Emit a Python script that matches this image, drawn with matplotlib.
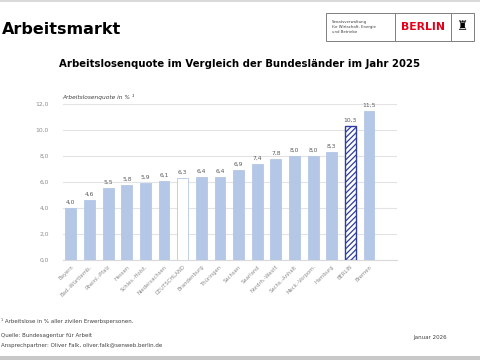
import matplotlib.pyplot as plt
from matplotlib.patches import Rectangle
from matplotlib.ticker import FuncFormatter

# Arbeitslosenquote 2025 by Bundesland
laender = ['Bayern', 'Bad.-Württemb.', 'Rheinl.-Pfalz', 'Hessen', 'Schles.-Holst.',
           'Niedersachsen', 'DEUTSCHLAND', 'Brandenburg', 'Thüringen', 'Sachsen',
           'Saarland', 'Nordrh.-Westf.', 'Sachs.-Anhalt', 'Meck.-Vorpom.', 'Hamburg',
           'BERLIN', 'Bremen']
quote = [4.0, 4.6, 5.5, 5.8, 5.9, 6.1, 6.3, 6.4, 6.4, 6.9,
         7.4, 7.8, 8.0, 8.0, 8.3, 10.3, 11.5]
y_ticks = [0, 2, 4, 6, 8, 10, 12]

bar_blue = '#b4c7e7'
grey_txt = '#8c8c8c'
plt.rcParams['font.family'] = ['DejaVu Sans']
plt.rcParams['hatch.color'] = '#2f3e9e'
plt.rcParams['hatch.linewidth'] = 0.9

fig = plt.figure(figsize=(4.8, 3.6), dpi=100)
ax = fig.add_axes([0.131, 0.278, 0.696, 0.433])

x = list(range(len(laender)))
bars = ax.bar(x, quote, width=0.58, color=bar_blue, edgecolor=bar_blue, linewidth=0.6, zorder=3)
# Deutschland hollow, Berlin hatched
i_de = laender.index('DEUTSCHLAND')
bars[i_de].set_facecolor('white')
bars[i_de].set_edgecolor(bar_blue)
i_be = laender.index('BERLIN')
bars[i_be].set_facecolor('white')
bars[i_be].set_edgecolor('#2f3e9e')
bars[i_be].set_hatch('//////')
bars[i_be].set_linewidth(1.0)

for xi, v in zip(x, quote):
    ax.text(xi, v + 0.25, f'{v:.1f}'.replace('.', ','), ha='center', va='bottom',
            fontsize=4.3, color='#595959')

ax.set_xlim(-0.43, 17.5)
ax.set_ylim(0, 12)
ax.set_yticks(y_ticks)
ax.yaxis.set_major_formatter(FuncFormatter(lambda v, p: f'{v:.1f}'.replace('.', ',')))
ax.tick_params(axis='y', length=0, labelsize=4.3, labelcolor=grey_txt, pad=10)
ax.set_xticks(x)
ax.set_xticklabels(laender, rotation=45, ha='right', rotation_mode='anchor',
                   fontsize=3.8, color=grey_txt)
ax.tick_params(axis='x', length=0, pad=3)
ax.grid(axis='y', color='#e3e3e3', linewidth=0.8, zorder=0)
for s in ['top', 'right', 'left']:
    ax.spines[s].set_visible(False)
ax.spines['bottom'].set_color('#d9d9d9')
ax.spines['bottom'].set_linewidth(0.8)

# header
fig.text(0.004, 0.917, 'Arbeitsmarkt', fontsize=11.5, fontweight='bold', va='center', ha='left')
fig.text(0.5, 0.822, 'Arbeitslosenquote im Vergleich der Bundesländer im Jahr 2025',
         fontsize=7.3, fontweight='bold', va='center', ha='center')
fig.text(0.129, 0.73, 'Arbeitslosenquote in % ¹', fontsize=4.2, style='italic',
         color='#404040', va='center', ha='left')

# logo box
fig.patches.append(Rectangle((326 / 480, 1 - 41 / 360), 148 / 480, 28 / 360,
                             transform=fig.transFigure, fill=False, edgecolor='#7f7f7f', lw=0.7))
for xx in [395, 451]:
    fig.add_artist(plt.Line2D([xx / 480, xx / 480], [1 - 41 / 360, 1 - 13 / 360],
                              transform=fig.transFigure, color='#7f7f7f', lw=0.7))
fig.text(332 / 480, 1 - 27 / 360, 'Senatsverwaltung\nfür Wirtschaft, Energie\nund Betriebe',
         fontsize=2.8, color='#404040', va='center', ha='left', linespacing=1.3)
fig.text(423 / 480, 1 - 27 / 360, 'BERLIN', fontsize=7.8, fontweight='bold', color='#e2001a',
         va='center', ha='center')
fig.text(462.5 / 480, 1 - 27 / 360, '♜', fontsize=9, color='black', va='center', ha='center')

# footer
fig.text(0.002, 1 - 321 / 360, '¹ Arbeitslose in % aller zivilen Erwerbspersonen.',
         fontsize=4, color='#404040', va='center', ha='left')
fig.text(0.002, 1 - 336 / 360, 'Quelle: Bundesagentur für Arbeit',
         fontsize=4, color='#404040', va='center', ha='left')
fig.text(0.002, 1 - 346 / 360, 'Ansprechpartner: Oliver Falk, oliver.falk@senweb.berlin.de',
         fontsize=4, color='#404040', va='center', ha='left')
fig.text(430 / 480, 1 - 338 / 360, 'Januar 2026', fontsize=4, color='#404040',
         va='center', ha='center')

# grey frame lines top and bottom
fig.patches.append(Rectangle((0, 1 - 2 / 360), 1, 2 / 360, transform=fig.transFigure,
                             color='#d9d9d9', lw=0))
fig.patches.append(Rectangle((0, 0), 1, 4 / 360, transform=fig.transFigure,
                             color='#c8c8c8', lw=0))

fig.savefig('out.png', dpi=100)
